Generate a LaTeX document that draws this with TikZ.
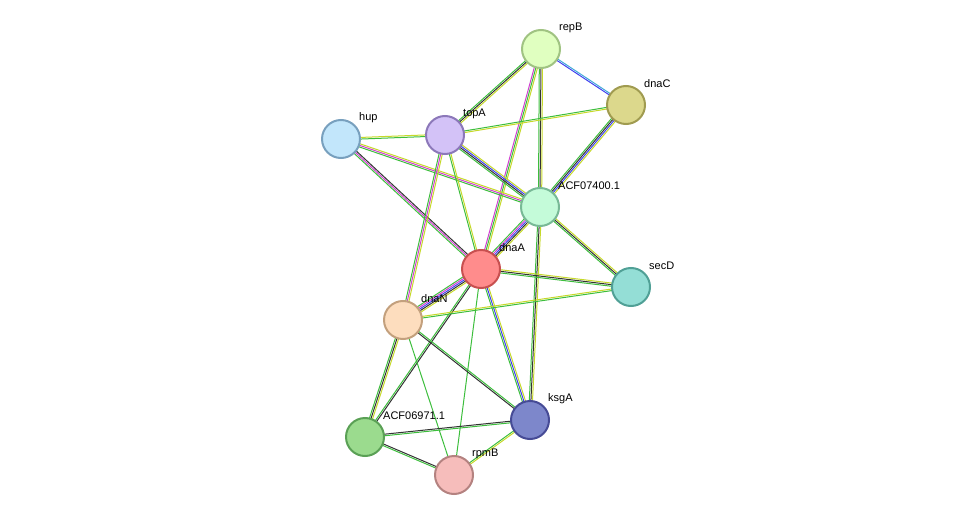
\documentclass[tikz,border=0pt]{standalone}
\usepackage{fontspec}
\setmainfont{Liberation Sans}
\usetikzlibrary{calc}
\definecolor{cG}{HTML}{3DBE3D}
\definecolor{cL}{HTML}{C6D92A}
\definecolor{cK}{HTML}{333333}
\definecolor{cB}{HTML}{3F3FF0}
\definecolor{cM}{HTML}{D040D0}
\definecolor{cC}{HTML}{40A8D8}
\newcommand\sedge[3]{%
  \foreach \c [count=\i] in {#3}{\xdef\ncount{\i}}%
  \foreach \c [count=\i] in {#3}{%
    \pgfmathsetmacro\o{(\i-(\ncount+1)/2)*1.6}%
    \draw[line width=1pt,color=\c] ($(#1)!\o pt!90:(#2)$) -- ($(#2)!\o pt!-90:(#1)$);}}
\tikzset{prot/.style={circle,minimum size=38pt,inner sep=0pt,line width=2pt},
 lab/.style={anchor=west,font=\fontsize{11}{13}\selectfont,inner sep=0pt}}
\begin{document}
\begin{tikzpicture}[x=1pt,y=-1pt]
\useasboundingbox (0,0) rectangle (976,521);
\coordinate (repB) at (541,49);
\coordinate (dnaC) at (626,105);
\coordinate (hup) at (341,139);
\coordinate (topA) at (445,135);
\coordinate (A74) at (540,207);
\coordinate (dnaA) at (481,269);
\coordinate (secD) at (631,287);
\coordinate (dnaN) at (403,320);
\coordinate (ksgA) at (530,420);
\coordinate (A69) at (365,437);
\coordinate (rpmB) at (454,475);
\sedge{repB}{dnaC}{cB,cC}
\sedge{repB}{topA}{cG,cK,cL}
\sedge{repB}{A74}{cG,cK,cL}
\sedge{repB}{dnaA}{cM,cG,cL}
\sedge{dnaC}{topA}{cG,cL}
\sedge{dnaC}{A74}{cG,cK,cB,cL}
\sedge{hup}{topA}{cG,cL}
\sedge{hup}{A74}{cG,cM,cL}
\sedge{hup}{dnaA}{cG,cM,cK}
\sedge{topA}{A74}{cG,cK,cB,cL}
\sedge{topA}{dnaA}{cG,cL}
\sedge{topA}{dnaN}{cG,cM,cL}
\sedge{A74}{dnaA}{cG,cM,cB,cK,cL}
\sedge{A74}{secD}{cG,cK,cL}
\sedge{A74}{ksgA}{cG,cK,cL}
\sedge{dnaA}{secD}{cG,cK,cL}
\sedge{dnaA}{dnaN}{cG,cM,cB,cK,cL}
\sedge{dnaA}{ksgA}{cG,cB,cL}
\sedge{dnaA}{A69}{cG,cK}
\sedge{dnaA}{rpmB}{cG}
\sedge{dnaN}{secD}{cG,cL}
\sedge{dnaN}{ksgA}{cK,cG}
\sedge{dnaN}{A69}{cG,cK,cL}
\sedge{dnaN}{rpmB}{cG}
\sedge{A69}{ksgA}{cG,cK}
\sedge{A69}{rpmB}{cG,cK}
\sedge{ksgA}{rpmB}{cG,cL}
\node[prot,fill={rgb,255:red,224;green,255;blue,192},draw={rgb,255:red,160;green,195;blue,130}] (nrepB) at (repB) {};
\node[prot,fill={rgb,255:red,220;green,216;blue,140},draw={rgb,255:red,160;green,155;blue,80}] (ndnaC) at (dnaC) {};
\node[prot,fill={rgb,255:red,194;green,230;blue,251},draw={rgb,255:red,120;green,160;blue,190}] (nhup) at (hup) {};
\node[prot,fill={rgb,255:red,211;green,194;blue,247},draw={rgb,255:red,140;green,120;blue,185}] (ntopA) at (topA) {};
\node[prot,fill={rgb,255:red,196;green,251;blue,217},draw={rgb,255:red,120;green,185;blue,150}] (nA74) at (A74) {};
\node[prot,fill={rgb,255:red,255;green,140;blue,140},draw={rgb,255:red,200;green,80;blue,80}] (ndnaA) at (dnaA) {};
\node[prot,fill={rgb,255:red,148;green,222;blue,214},draw={rgb,255:red,80;green,160;blue,150}] (nsecD) at (secD) {};
\node[prot,fill={rgb,255:red,253;green,221;blue,190},draw={rgb,255:red,195;green,160;blue,125}] (ndnaN) at (dnaN) {};
\node[prot,fill={rgb,255:red,125;green,135;blue,203},draw={rgb,255:red,70;green,75;blue,150}] (nksgA) at (ksgA) {};
\node[prot,fill={rgb,255:red,155;green,219;blue,142},draw={rgb,255:red,90;green,160;blue,85}] (nA69) at (A69) {};
\node[prot,fill={rgb,255:red,246;green,189;blue,187},draw={rgb,255:red,180;green,130;blue,128}] (nrpmB) at (rpmB) {};
\node[lab] (lrepB) at ($(repB)+(18,-21)$) {repB};
\node[lab] (ldnaC) at ($(dnaC)+(18,-21)$) {dnaC};
\node[lab] (lhup) at ($(hup)+(18,-21)$) {hup};
\node[lab] (ltopA) at ($(topA)+(18,-21)$) {topA};
\node[lab] (lA74) at ($(A74)+(18,-21)$) {ACF07400.1};
\node[lab] (ldnaA) at ($(dnaA)+(18,-21)$) {dnaA};
\node[lab] (lsecD) at ($(secD)+(18,-21)$) {secD};
\node[lab] (ldnaN) at ($(dnaN)+(18,-21)$) {dnaN};
\node[lab] (lksgA) at ($(ksgA)+(18,-21)$) {ksgA};
\node[lab] (lA69) at ($(A69)+(18,-21)$) {ACF06971.1};
\node[lab] (lrpmB) at ($(rpmB)+(18,-21)$) {rpmB};
\end{tikzpicture}
\end{document}
